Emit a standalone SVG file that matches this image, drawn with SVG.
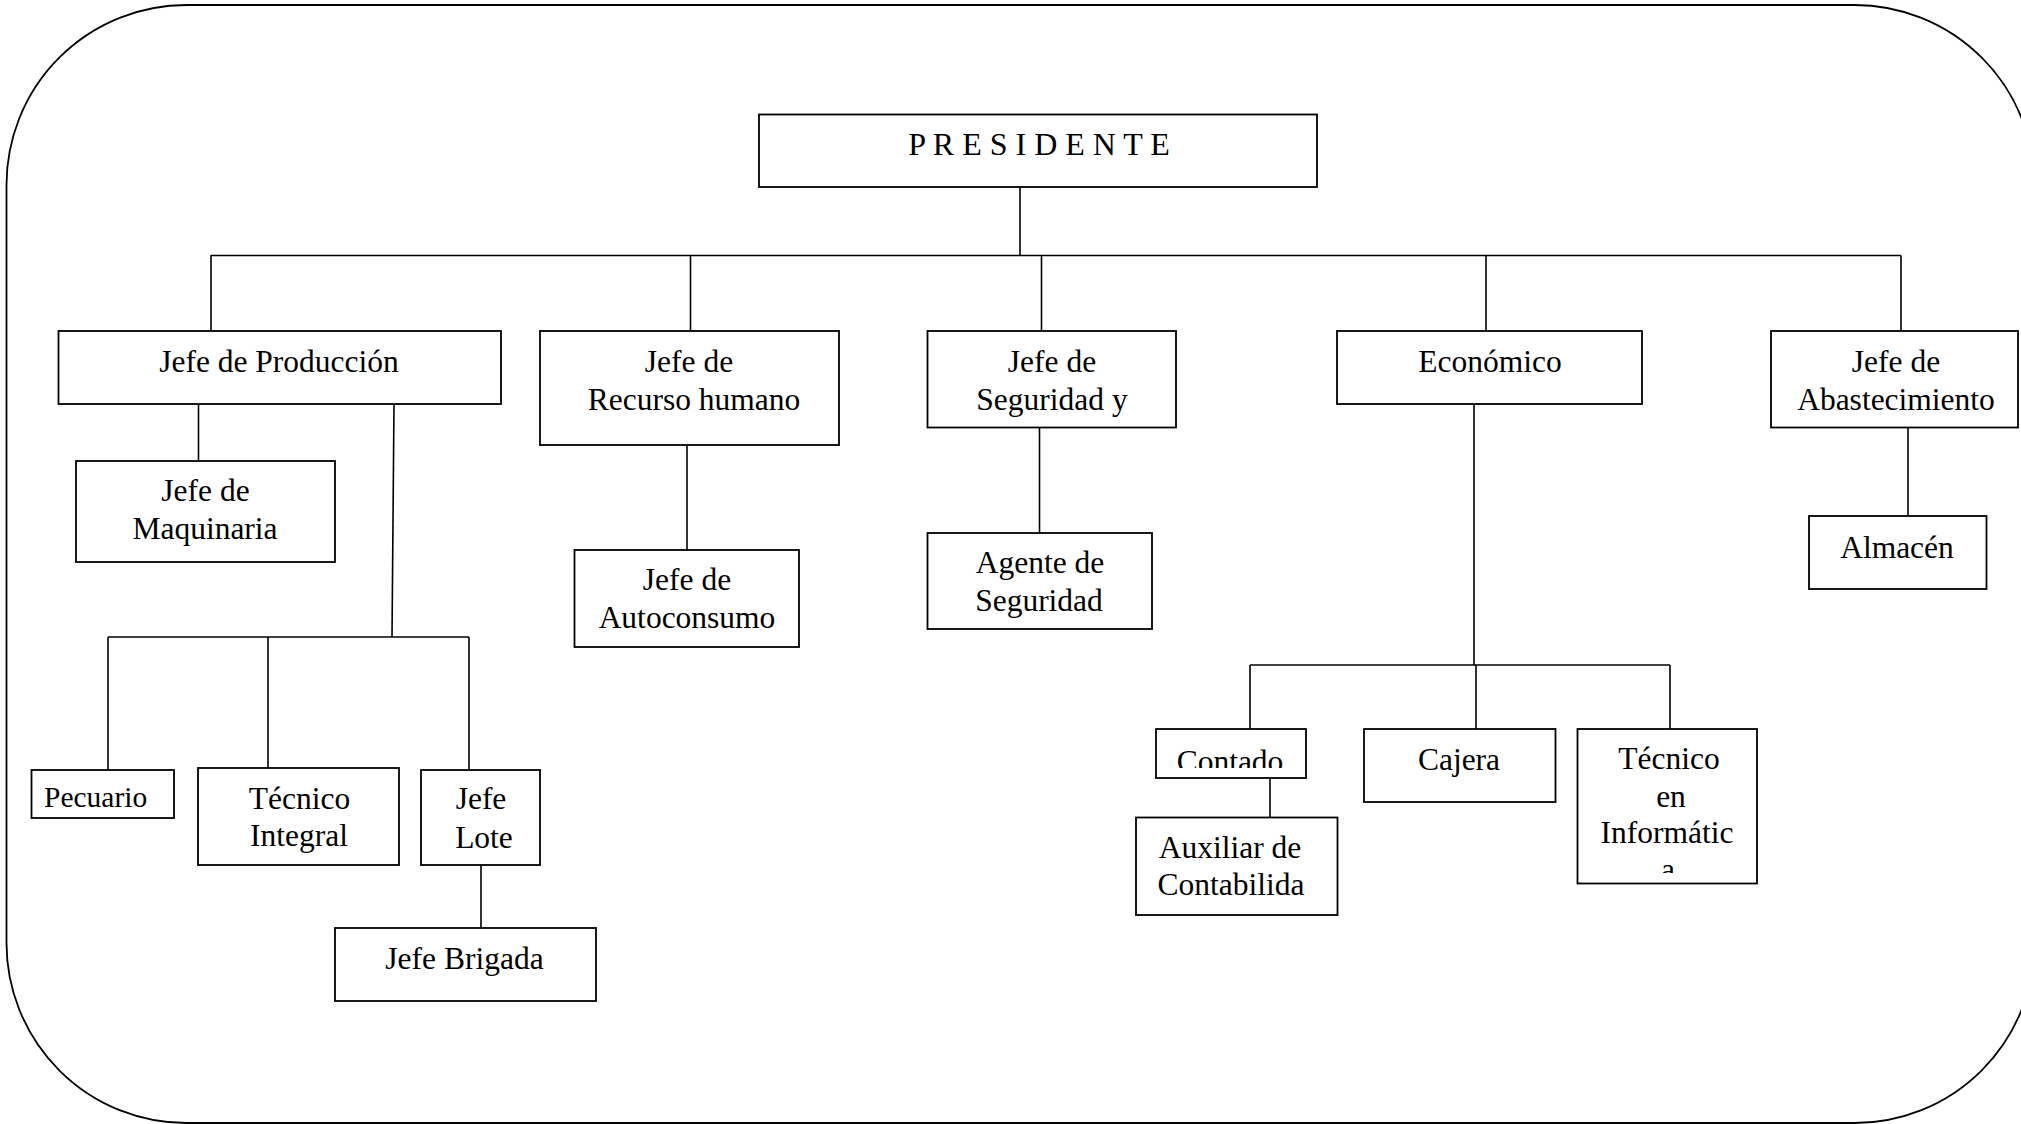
<svg xmlns="http://www.w3.org/2000/svg" width="2021" height="1124" viewBox="0 0 2021 1124">
<style>
  .box { fill: #ffffff; stroke: #000000; stroke-width: 1.8; }
  .ln { stroke: #000000; stroke-width: 1.6; fill: none; }
  .t { font-family: "Liberation Serif", "Times New Roman", serif; font-size: 31.5px; fill: #000000; text-anchor: middle; }
  .ts { text-anchor: start; }
</style>
<defs>
  <clipPath id="clipContado"><rect x="1157" y="730" width="148" height="38"/></clipPath>
  <clipPath id="clipInfo"><rect x="1578" y="730" width="178" height="143"/></clipPath>
</defs>
<rect x="0" y="0" width="2021" height="1124" fill="#ffffff"/>
<rect id="frame" x="6.5" y="5" width="2028" height="1118" rx="180" ry="180" fill="none" stroke="#000000" stroke-width="1.8"/>

<g id="connectors">
  <line class="ln" x1="1020" y1="187" x2="1020" y2="255.5"/>
  <line class="ln" x1="210.5" y1="255.5" x2="1901" y2="255.5"/>
  <line class="ln" x1="211" y1="255.5" x2="211" y2="331"/>
  <line class="ln" x1="690.5" y1="255.5" x2="690.5" y2="331"/>
  <line class="ln" x1="1041.5" y1="255.5" x2="1041.5" y2="331"/>
  <line class="ln" x1="1486" y1="255.5" x2="1486" y2="331"/>
  <line class="ln" x1="1901" y1="255.5" x2="1901" y2="331"/>
  <line class="ln" x1="198.5" y1="404" x2="198.5" y2="461"/>
  <line class="ln" x1="394" y1="404" x2="392" y2="637"/>
  <line class="ln" x1="108" y1="637" x2="469" y2="637"/>
  <line class="ln" x1="108" y1="637" x2="108" y2="770"/>
  <line class="ln" x1="268" y1="637" x2="268" y2="768"/>
  <line class="ln" x1="469" y1="637" x2="469" y2="770"/>
  <line class="ln" x1="481" y1="865" x2="481" y2="928"/>
  <line class="ln" x1="687" y1="445" x2="687" y2="550"/>
  <line class="ln" x1="1039.5" y1="427.5" x2="1039.5" y2="533"/>
  <line class="ln" x1="1474" y1="404" x2="1474" y2="665"/>
  <line class="ln" x1="1250" y1="665" x2="1670" y2="665"/>
  <line class="ln" x1="1250" y1="665" x2="1250" y2="729"/>
  <line class="ln" x1="1476" y1="665" x2="1476" y2="729"/>
  <line class="ln" x1="1670" y1="665" x2="1670" y2="729"/>
  <line class="ln" x1="1270" y1="778" x2="1270" y2="817.5"/>
  <line class="ln" x1="1908" y1="427.5" x2="1908" y2="516"/>
</g>

<g id="presidente">
  <rect class="box" x="759" y="114.5" width="558" height="72.5"/>
  <text class="t" x="1039" y="155" style="font-size:32px">P R E S I D E N T E</text>
</g>

<g id="jefe-produccion">
  <rect class="box" x="58.5" y="331" width="442.5" height="73"/>
  <text class="t" x="279" y="372">Jefe de Producción</text>
</g>

<g id="jefe-recurso-humano">
  <rect class="box" x="540" y="331" width="299" height="114"/>
  <text class="t" x="689" y="372">Jefe de</text>
  <text class="t" x="694" y="410">Recurso humano</text>
</g>

<g id="jefe-seguridad">
  <rect class="box" x="927.5" y="331" width="248.5" height="96.5"/>
  <text class="t" x="1052" y="372">Jefe de</text>
  <text class="t" x="1052" y="410">Seguridad y</text>
</g>

<g id="economico">
  <rect class="box" x="1337" y="331" width="305" height="73"/>
  <text class="t" x="1490" y="372">Económico</text>
</g>

<g id="jefe-abastecimiento">
  <rect class="box" x="1771" y="331" width="247" height="96.5"/>
  <text class="t" x="1896" y="372">Jefe de</text>
  <text class="t" x="1896" y="410">Abastecimiento</text>
</g>

<g id="jefe-maquinaria">
  <rect class="box" x="76" y="461" width="259" height="101"/>
  <text class="t" x="205.5" y="501">Jefe de</text>
  <text class="t" x="205" y="538.5">Maquinaria</text>
</g>

<g id="jefe-autoconsumo">
  <rect class="box" x="574.5" y="550" width="224.5" height="97"/>
  <text class="t" x="687" y="590">Jefe de</text>
  <text class="t" x="687" y="627.5">Autoconsumo</text>
</g>

<g id="agente-seguridad">
  <rect class="box" x="927.5" y="533" width="224.5" height="96"/>
  <text class="t" x="1040" y="572.5">Agente de</text>
  <text class="t" x="1039" y="610.5">Seguridad</text>
</g>

<g id="almacen">
  <rect class="box" x="1809" y="516" width="177.5" height="73"/>
  <text class="t" x="1897" y="557.5">Almacén</text>
</g>

<g id="pecuario">
  <rect class="box" x="31.5" y="770" width="142.5" height="48"/>
  <text class="t ts" x="44" y="807" style="font-size:29.5px">Pecuario</text>
</g>

<g id="tecnico-integral">
  <rect class="box" x="198" y="768" width="201" height="97"/>
  <text class="t" x="299.5" y="808.5">Técnico</text>
  <text class="t" x="299" y="846">Integral</text>
</g>

<g id="jefe-lote">
  <rect class="box" x="421" y="770" width="119" height="95"/>
  <text class="t" x="481" y="809">Jefe</text>
  <text class="t" x="484" y="847.5">Lote</text>
</g>

<g id="jefe-brigada">
  <rect class="box" x="335" y="928" width="261" height="73"/>
  <text class="t" x="464.5" y="969">Jefe Brigada</text>
</g>

<g id="contado">
  <rect class="box" x="1156" y="729" width="150" height="49"/>
  <text class="t" x="1230" y="771.5" clip-path="url(#clipContado)">Contado</text>
</g>

<g id="cajera">
  <rect class="box" x="1364" y="729" width="191.5" height="73"/>
  <text class="t" x="1459" y="770">Cajera</text>
</g>

<g id="tecnico-informatica">
  <rect class="box" x="1577.5" y="729" width="179.5" height="154.5"/>
  <g clip-path="url(#clipInfo)">
    <text class="t" x="1669" y="769">Técnico</text>
    <text class="t" x="1671" y="806.5">en</text>
    <text class="t" x="1667" y="842.5">Informátic</text>
    <text class="t" x="1668" y="880">a</text>
  </g>
</g>

<g id="auxiliar-contabilidad">
  <rect class="box" x="1136" y="817.5" width="201.5" height="97.5"/>
  <text class="t" x="1230" y="857.5">Auxiliar de</text>
  <text class="t" x="1231" y="894.5">Contabilida</text>
</g>
</svg>
